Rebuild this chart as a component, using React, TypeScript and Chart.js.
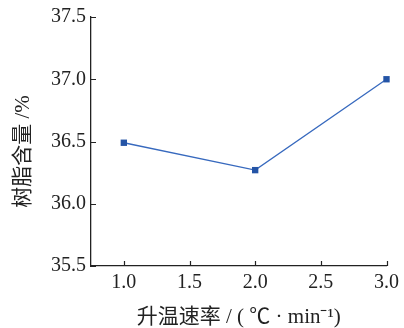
import React, { useEffect, useRef } from "react";
import { Chart, registerables } from "chart.js";

Chart.register(...registerables);

const heatingRates = [1.0, 2.0, 3.0];
const resinContent = [36.49, 36.27, 37.0];
const xTicks = [1.0, 1.5, 2.0, 2.5, 3.0];
const yTicks = [35.5, 36.0, 36.5, 37.0, 37.5];
const xTitle = "升温速率 / ( ℃ · min⁻¹)";
const yTitle = "树脂含量 /%";

const FONT = "'Liberation Serif', 'Times New Roman', 'Noto Sans CJK SC', serif";

const innerTicks = {
  id: "innerTicks",
  afterDraw(chart: any) {
    const ctx = chart.ctx;
    const xs = chart.scales.x;
    const ys = chart.scales.y;
    const area = chart.chartArea;
    ctx.save();
    ctx.strokeStyle = "#222";
    ctx.lineWidth = 1.2;
    ctx.beginPath();
    xTicks.forEach((v) => {
      const px = Math.round(xs.getPixelForValue(v)) + 0.5;
      ctx.moveTo(px, area.bottom);
      ctx.lineTo(px, area.bottom - 5);
    });
    yTicks.forEach((v) => {
      const py = Math.round(ys.getPixelForValue(v)) + 0.5;
      ctx.moveTo(area.left, py);
      ctx.lineTo(area.left + 5, py);
    });
    ctx.stroke();
    // y axis title
    ctx.translate(23, (area.top + area.bottom) / 2 + 10);
    ctx.rotate(-Math.PI / 2);
    ctx.fillStyle = "#222";
    ctx.font = "21px " + FONT;
    ctx.textAlign = "center";
    ctx.textBaseline = "middle";
    ctx.fillText(yTitle, 0, 0);
    ctx.restore();
  },
};

export default function App() {
  const ref = useRef<HTMLCanvasElement | null>(null);
  useEffect(() => {
    let chart: any = null;
    let cancelled = false;
    const make = () => {
      if (cancelled || !ref.current) return;
      chart = new Chart(ref.current, {
        type: "line",
        data: {
          datasets: [
            {
              data: heatingRates.map((x, i) => ({ x, y: resinContent[i] })),
              borderColor: "#3769be",
              backgroundColor: "#2454a6",
              borderWidth: 1.3,
              pointStyle: "rect",
              pointRadius: 4.5,
              pointBorderWidth: 0,
              clip: false as any,
            },
          ],
        },
        options: {
          animation: false,
          responsive: false,
          layout: { padding: { top: 16, right: 12, left: 0, bottom: 0 } },
          plugins: { legend: { display: false }, tooltip: { enabled: false } },
          scales: {
            x: {
              type: "linear",
              min: 0.75,
              max: 3.0,
              afterBuildTicks: (s: any) => {
                s.ticks = xTicks.map((v) => ({ value: v }));
              },
              afterFit: (s: any) => {
                s.height = 62;
              },
              grid: { display: false, drawTicks: false },
              border: { display: true, color: "#222", width: 1.3 },
              ticks: {
                color: "#222",
                font: { family: FONT, size: 20 },
                padding: 5,
                maxRotation: 0,
                callback: (v: any) => Number(v).toFixed(1),
              },
              title: {
                display: true,
                text: xTitle,
                color: "#222",
                font: { family: FONT, size: 21 },
                padding: { top: 6, bottom: -2 },
              },
            },
            y: {
              type: "linear",
              min: 35.5,
              max: 37.5,
              afterBuildTicks: (s: any) => {
                s.ticks = yTicks.map((v) => ({ value: v }));
              },
              afterFit: (s: any) => {
                s.width = 91;
              },
              grid: { display: false, drawTicks: false },
              border: { display: true, color: "#222", width: 1.3 },
              ticks: {
                color: "#222",
                font: { family: FONT, size: 20 },
                padding: 5,
                callback: (v: any) => Number(v).toFixed(1),
              },
              title: { display: false },
            },
          },
        },
        plugins: [innerTicks],
      });
    };
    const fontsApi: any = (document as any).fonts;
    if (fontsApi && fontsApi.load) {
      Promise.all([
        fontsApi.load("20px 'Liberation Serif'"),
        fontsApi.load("20px 'Noto Sans CJK SC'", "升温速率树脂含量"),
      ])
        .catch(() => null)
        .then(make);
    } else {
      make();
    }
    return () => {
      cancelled = true;
      if (chart) chart.destroy();
    };
  }, []);
  return (
    <div style={{ position: "fixed", left: 0, top: 0, width: 404, height: 328, background: "#fff" }}>
      <canvas ref={ref} width={404} height={328} style={{ display: "block" }} />
    </div>
  );
}
